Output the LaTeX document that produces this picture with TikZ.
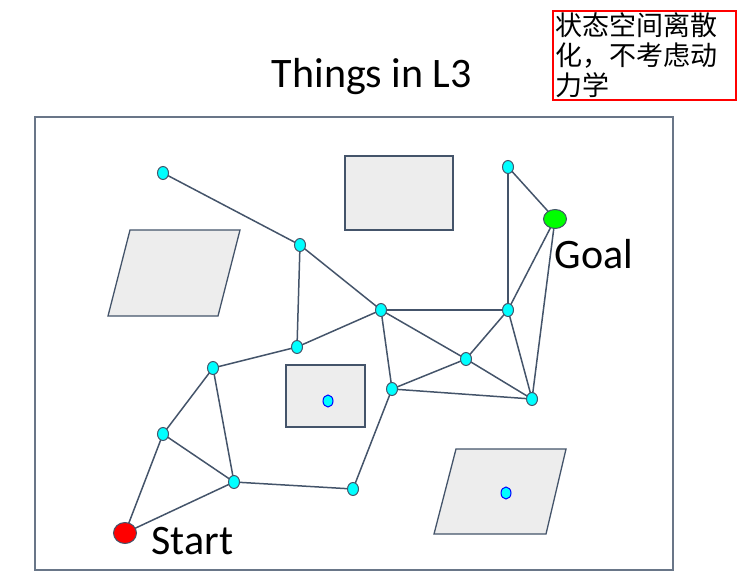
\documentclass[tikz,border=0pt]{standalone}
\usepackage{fontspec}
\usepackage{xcolor}
\usetikzlibrary{shapes.geometric,backgrounds}
\newfontfamily\labelfont{Carlito}
\newfontfamily\cjk{Noto Sans CJK SC}
\definecolor{slate}{HTML}{44546A}
\definecolor{obst}{HTML}{EDEDED}
\definecolor{aqua}{HTML}{00FFFF}
\definecolor{lime}{HTML}{00FF00}
\definecolor{redpt}{HTML}{FF0000}

\begin{document}
\begin{tikzpicture}[x=1pt, y=-1pt,
  wp/.style={ellipse, draw=slate, fill=aqua, line width=1pt, inner sep=0pt, minimum width=11pt, minimum height=13pt},
  mark dot/.style={ellipse, draw=blue, fill=aqua, line width=1pt, inner sep=0pt, minimum width=10pt, minimum height=12pt},
  obstacle/.style={draw=slate, fill=obst, line width=1.3pt},
  link/.style={draw=slate, line width=1.5pt},
  big/.style={font=\labelfont\fontsize{42}{46}\selectfont}]
\useasboundingbox (0,0) rectangle (754,579);

% workspace
\draw[slate!80, line width=1.2pt] (35,117) rectangle (673,570);
\node[big, anchor=base] (title) at (372,87) {Things in L3};
\node[draw=redpt, line width=1.8pt, anchor=north west, inner sep=0pt, minimum width=183pt, minimum height=89pt] (note) at (552,10) {};
\node[anchor=north west, inner sep=0pt, align=left, font=\cjk\fontsize{27}{30}\selectfont] at (555,12)
  {状态空间离散\\化，不考虑动\\力学};

% obstacles
\draw[obstacle] (345,156) rectangle (453,230);
\draw[obstacle] (130,230) -- (240,230) -- (218,316) -- (108,316) -- cycle;
\draw[obstacle] (286,365) rectangle (365,427);
\draw[obstacle] (456,449) -- (566,449) -- (546,534) -- (434,534) -- cycle;
\node[mark dot] (m1) at (328,401) {};
\node[mark dot] (m2) at (506,493) {};

% roadmap
\node[wp] (n1) at (163,173) {};
\node[wp] (n2) at (300,245) {};
\node[wp] (n3) at (381,310) {};
\node[wp] (n4) at (297,347) {};
\node[wp] (n5) at (213,368) {};
\node[wp] (n6) at (163,434) {};
\node[wp] (n7) at (234,482) {};
\node[wp] (n8) at (353,489) {};
\node[wp] (n9) at (392,389) {};
\node[wp] (n10) at (466,359) {};
\node[wp] (n11) at (508,310) {};
\node[wp] (n12) at (532,399) {};
\node[wp] (n13) at (508,167) {};
\node[ellipse, draw=slate, fill=lime, line width=1pt, inner sep=0pt, minimum width=23pt, minimum height=19pt] (goal) at (555,219) {};
\node[ellipse, draw=slate, fill=redpt, line width=1pt, inner sep=0pt, minimum width=23pt, minimum height=21pt] (start) at (125,533) {};

\node[big, anchor=base west] (goallbl) at (551,268) {Goal};
\node[big, anchor=base west] (startlbl) at (148,554) {Start};

\begin{scope}[on background layer]
\foreach \a/\b in {n1/n2, n2/n3, n2/n4, n4/n3, n4/n5, n5/n6, n5/n7, n6/n7,
  n6/start, n7/start, n7/n8, n8/n9, n9/n3, n3/n10, n3/n11, n9/n10, n9/n12,
  n10/n11, n10/n12, n11/n12, n11/goal, n11/n13, n13/goal, goal/n12}
  \draw[link] (\a.center) -- (\b.center);
\end{scope}
\end{tikzpicture}
\end{document}
